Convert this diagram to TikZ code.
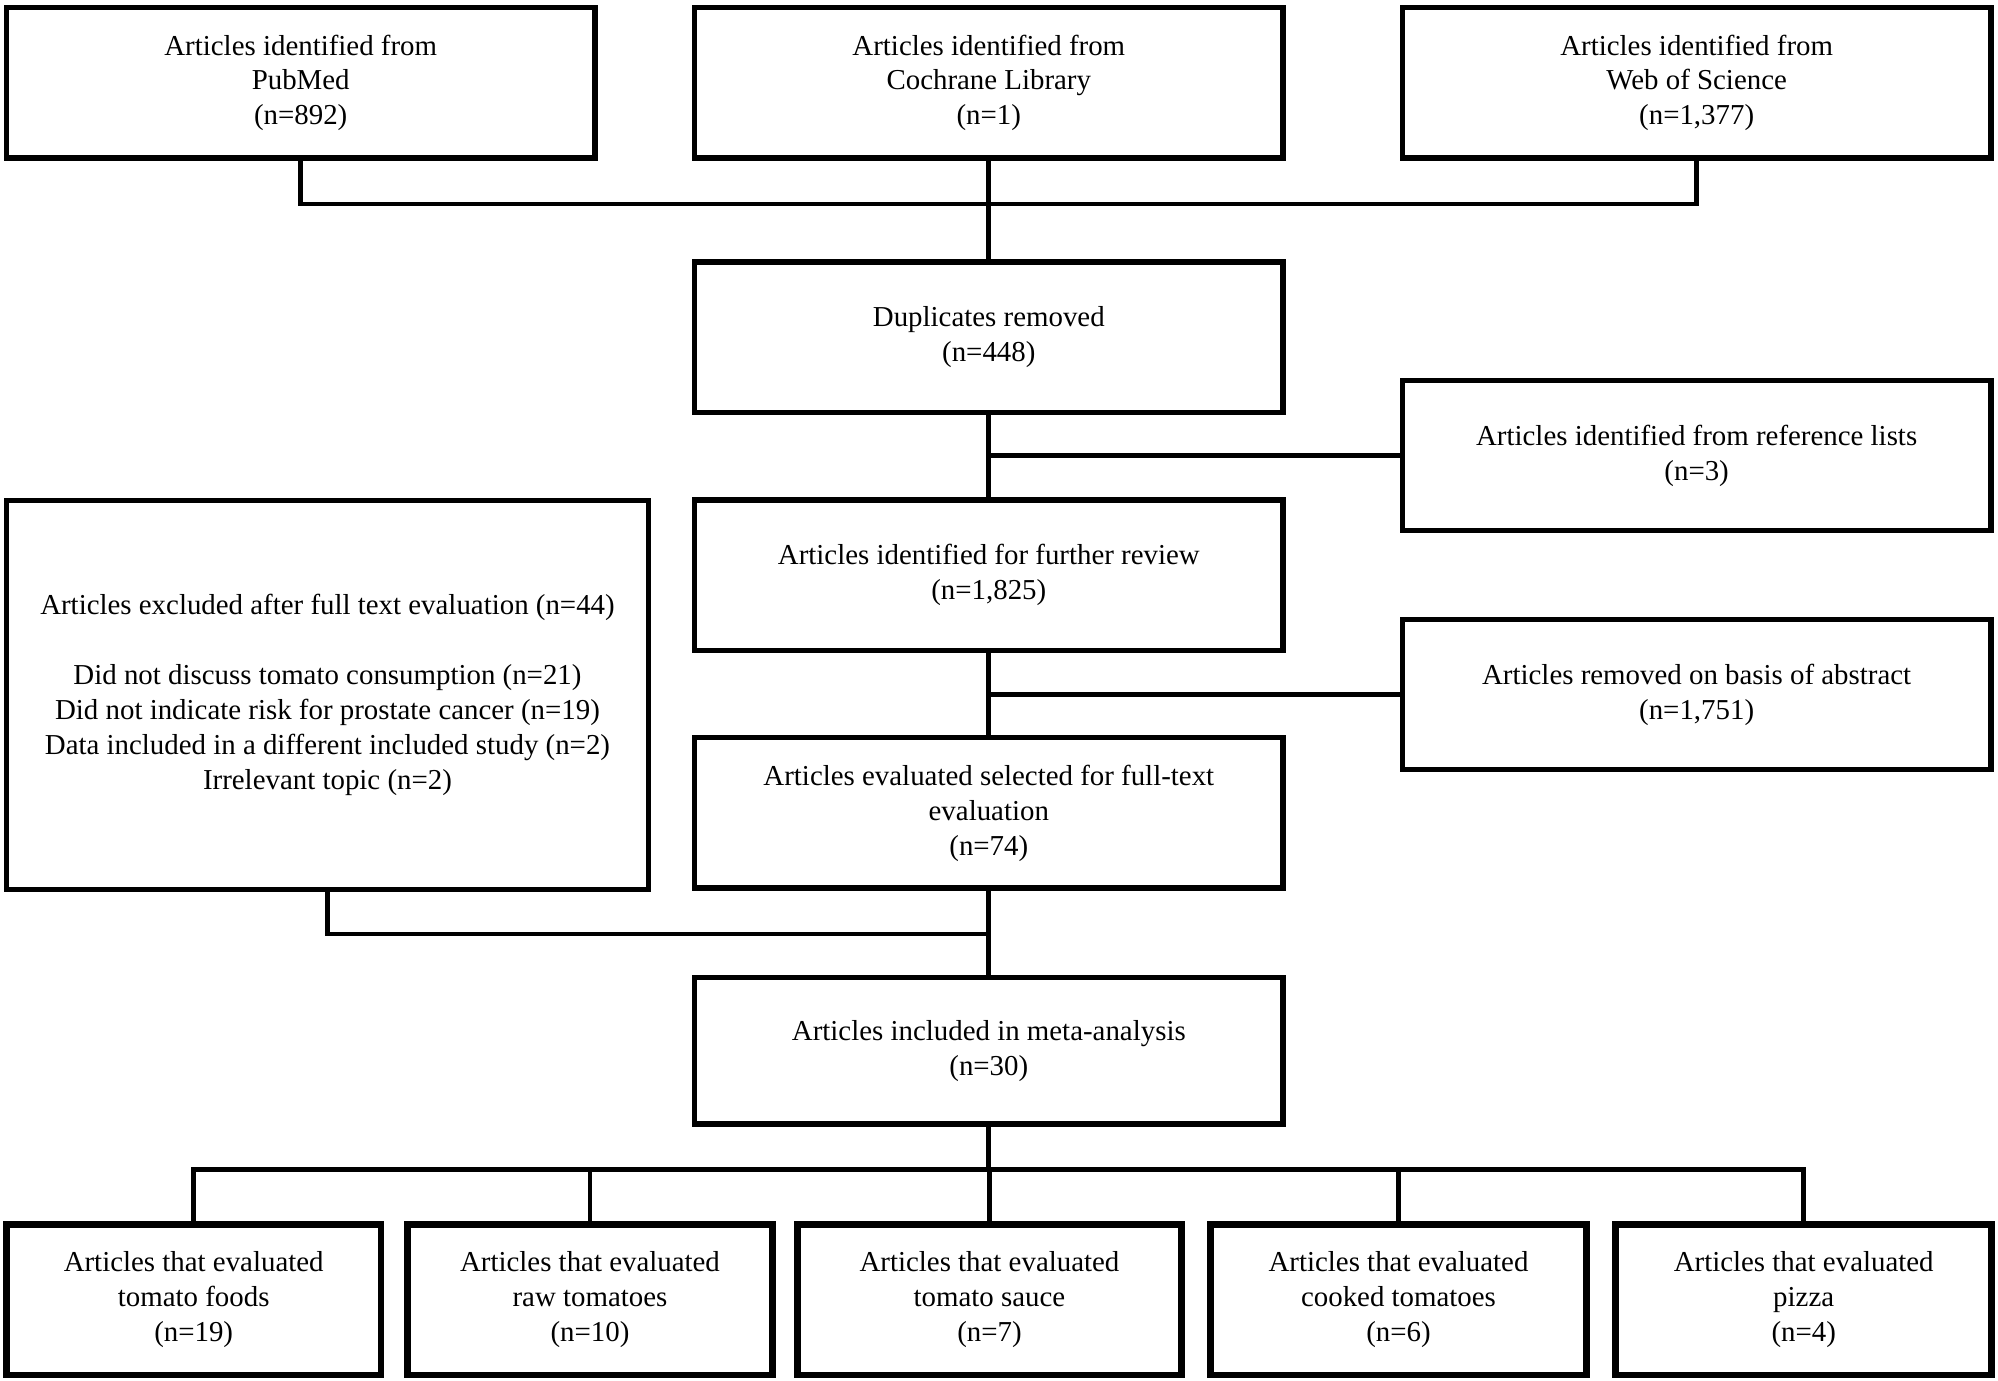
\documentclass[tikz,border=0pt]{standalone}
\usepackage{fontspec}
\setmainfont{Liberation Serif}
\begin{document}
\begin{tikzpicture}[x=0.02cm,y=-0.02cm,line width=2.1pt,
	box/.style={draw,line width=2.4pt,inner sep=0pt,align=center,
		font=\fontsize{12.9}{15.6}\selectfont,minimum width=462*0.02cm,minimum height=118*0.02cm},
	leaf/.style={box,line width=3pt}]
		\useasboundingbox (0,0) rectangle (1568,1083);
		% sources
		\node[box] (pub) at (236,65) {Articles identified from\\PubMed\\(n=892)};
		\node[box] (coch) at (776,65) {Articles identified from\\Cochrane Library\\(n=1)};
		\node[box] (wos) at (1331.5,65) {Articles identified from\\Web of Science\\(n=1,377)};
		\node[box] (dup) at (776,264.5) {Duplicates removed\\(n=448)};
		\node[box] (ref) at (1331.5,357.5) {Articles identified from reference lists\\(n=3)};
		\node[box] (rev) at (776,451.5) {Articles identified for further review\\(n=1,825)};
		\node[box,minimum width=504*0.02cm,minimum height=305*0.02cm] (exc) at (257,545.5)
			{Articles excluded after full text evaluation (n=44)\\[15.6pt]
			Did not discuss tomato consumption (n=21)\\
			Did not indicate risk for prostate cancer (n=19)\\
			Data included in a different included study (n=2)\\
			Irrelevant topic (n=2)};
		\node[box] (abs) at (1331.5,545) {Articles removed on basis of abstract\\(n=1,751)};
		\node[box] (eval) at (776,638) {Articles evaluated selected for full-text\\evaluation\\(n=74)};
		\node[box,minimum height=115*0.02cm] (meta) at (776,824.5) {Articles included in meta-analysis\\(n=30)};
		% food types
		\node[leaf,minimum width=294*0.02cm] (foods) at (152,1020) {Articles that evaluated\\tomato foods\\(n=19)};
		\node[leaf,minimum width=286*0.02cm] (raw) at (463,1020) {Articles that evaluated\\raw tomatoes\\(n=10)};
		\node[leaf,minimum width=301*0.02cm] (sauce) at (776.5,1020) {Articles that evaluated\\tomato sauce\\(n=7)};
		\node[leaf,minimum width=295*0.02cm] (cooked) at (1097.5,1020) {Articles that evaluated\\cooked tomatoes\\(n=6)};
		\node[leaf,minimum width=295*0.02cm] (pizza) at (1415.5,1020) {Articles that evaluated\\pizza\\(n=4)};
		\coordinate (top) at (776,160);
		\coordinate (left) at (776,733);
		\coordinate (split) at (776,918);
		\draw (pub.south) |- (top) -| (wos.south);
		\draw (coch.south) -- (dup.north);
		\draw (dup.south) -- (rev.north);
		\draw (ref.west) -- (ref.west -| rev.north);
		\draw (rev.south) -- (eval.north);
		\draw (abs.west) -- (abs.west -| eval.north);
		\draw (eval.south) -- (meta.north);
		\draw (exc.south) |- (left);
		\draw (meta.south) -- (split);
		\draw (foods.north) |- (split) -| (pizza.north);
		\draw (raw.north) -- (raw.north |- split);
		\draw (sauce.north) -- (sauce.north |- split);
		\draw (cooked.north) -- (cooked.north |- split);
	\end{tikzpicture}
\end{document}
